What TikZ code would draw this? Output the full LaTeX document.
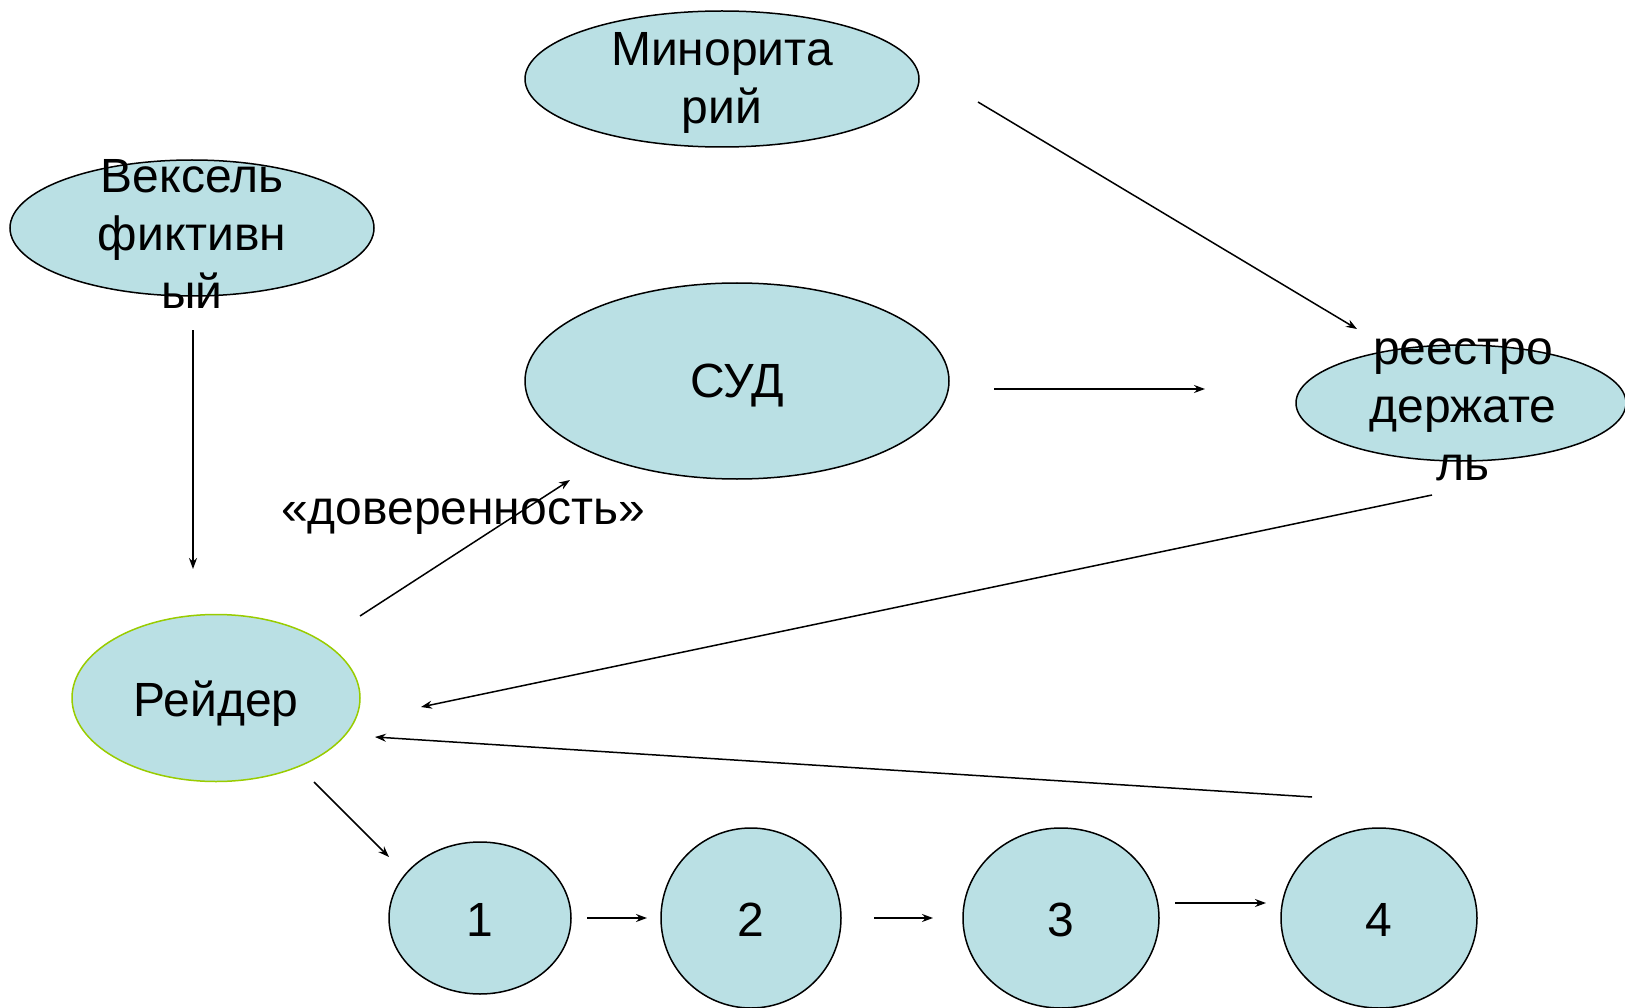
\documentclass[tikz,border=0pt]{standalone}
\usepackage{fontspec}
\setmainfont{Liberation Sans}
\usetikzlibrary{shapes.geometric,arrows.meta}
\definecolor{fillc}{HTML}{BAE0E4}
\definecolor{greenb}{HTML}{99CC00}
\begin{document}
\begin{tikzpicture}[x=1pt,y=-1pt,
  oval/.style={ellipse,draw=black,fill=fillc,line width=1.5pt,inner sep=0pt},
  txt/.style={font=\fontsize{48}{58}\selectfont,align=center,inner sep=0pt},
  conn/.style={line width=1.5pt,-{Stealth[length=11pt,width=8pt]}}]
\useasboundingbox (0,0) rectangle (1625,1008);
\fill[white] (0,0) rectangle (1625,1008);
% ellipses
\node[oval,minimum width=394,minimum height=136] (min) at (722,79) {};
\node[txt] (mint) at (722,83) {Минорита\\рий};
\node[oval,minimum width=364,minimum height=136] (vek) at (192,228) {};
\node[txt] (vekt) at (192,234) {Вексель\\фиктивн\\ый};
\node[oval,minimum width=424,minimum height=196] (sud) at (737,381) {};
\node[txt] (sudt) at (737,386) {СУД};
\node[oval,minimum width=330,minimum height=116] (reg) at (1461,403) {};
\node[txt] (regt) at (1463,410) {реестро\\держате\\ль};
\node[oval,draw=greenb,minimum width=288,minimum height=167] (raid) at (216,698) {};
\node[txt] (raidt) at (216,704) {Рейдер};
\node[oval,minimum width=182,minimum height=152] (c1) at (480,918) {};
\node[txt] (c1t) at (480,920) {1};
\node[oval,minimum width=180,minimum height=180] (c2) at (751,918) {};
\node[txt] (c2t) at (751,920) {2};
\node[oval,minimum width=196,minimum height=180] (c3) at (1061,918) {};
\node[txt] (c3t) at (1061,920) {3};
\node[oval,minimum width=196,minimum height=180] (c4) at (1379,918) {};
\node[txt] (c4t) at (1379,920) {4};
\node[txt] (dov) at (463,517) {«доверенность»};
% connector end points
\coordinate (p1) at (978,102);  \coordinate (q1) at (1357,329);
\coordinate (p2) at (994,389);  \coordinate (q2) at (1205,389);
\coordinate (p3) at (193,330);  \coordinate (q3) at (193,569);
\coordinate (p4) at (360,616);  \coordinate (q4) at (570,480);
\coordinate (p5) at (1432,495); \coordinate (q5) at (421,707);
\coordinate (p6) at (1312,797); \coordinate (q6) at (375,737);
\coordinate (p7) at (314,782);  \coordinate (q7) at (389,857);
\coordinate (p8) at (587,918);  \coordinate (q8) at (647,918);
\coordinate (p9) at (874,918);  \coordinate (q9) at (933,918);
\coordinate (p10) at (1175,903); \coordinate (q10) at (1266,903);
\draw[conn] (p1) -- (q1);
\draw[conn] (p2) -- (q2);
\draw[conn] (p3) -- (q3);
\draw[conn] (p4) -- (q4);
\draw[conn] (p5) -- (q5);
\draw[conn] (p6) -- (q6);
\draw[conn] (p7) -- (q7);
\draw[conn] (p8) -- (q8);
\draw[conn] (p9) -- (q9);
\draw[conn] (p10) -- (q10);
\end{tikzpicture}
\end{document}
